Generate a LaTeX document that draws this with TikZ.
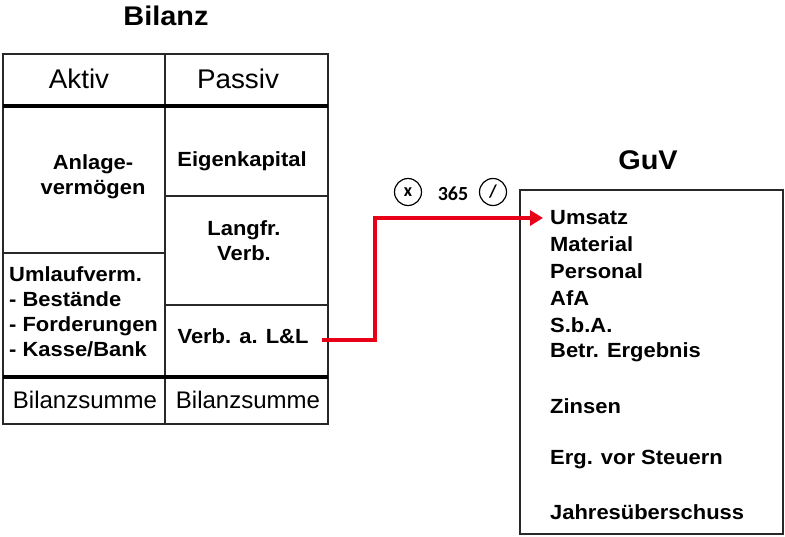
\documentclass[tikz,border=0pt]{standalone}
\usepackage{fontspec}
\setmainfont{Liberation Sans}
\newfontfamily\wide[FakeStretch=1.07]{Liberation Sans}
\newfontfamily\hwide[FakeStretch=1.03]{Liberation Sans}
\newfontfamily\calib{Carlito}
\usetikzlibrary{arrows.meta}
\definecolor{arrred}{RGB}{232,0,24}
\definecolor{linegray}{RGB}{40,40,40}
\tikzset{
  thinline/.style={draw=linegray, line width=1.4pt},
  thickline/.style={draw=black, line width=4pt},
  head/.style={font=\hwide\fontsize{27}{30}\selectfont, inner sep=0pt},
  sumtext/.style={font=\fontsize{24}{28}\selectfont, inner sep=0pt},
  cell/.style={font=\wide\bfseries\fontsize{20.5}{25}\selectfont, align=center, inner sep=0pt},
  lcell/.style={font=\wide\bfseries\fontsize{20.5}{25}\selectfont, align=left, inner sep=0pt, anchor=west},
  title/.style={font=\wide\bfseries\fontsize{27}{30}\selectfont, inner sep=0pt},
  guvitem/.style={font=\wide\bfseries\fontsize{20.5}{27}\selectfont, inner sep=0pt, anchor=west},
  opcircle/.style={draw=black, line width=1.2pt, circle, minimum size=27pt, inner sep=0pt, font=\calib\bfseries\fontsize{18}{20}\selectfont},
  redarrow/.style={draw=arrred, line width=4.5pt, -{Triangle[length=13pt,width=15pt]}}
}
\begin{document}
\begin{tikzpicture}[x=1pt,y=-1pt]
\useasboundingbox (0,0) rectangle (785,536);
% Bilanz table
\node[title] (bilanz) at (166,16) {Bilanz};
\draw[thinline] (3,54) rectangle (328,424);
\draw[thinline] (165,54) -- (165,424);
\draw[thinline] (3,253) -- (165,253);
\draw[thinline] (165,196) -- (328,196);
\draw[thinline] (165,305) -- (328,305);
\draw[thickline] (3,106) -- (328,106);
\draw[thickline] (3,377) -- (328,377);
\node[head] (aktiv) at (79,79) {Aktiv};
\node[head] (passiv) at (238,79) {Passiv};
\node[cell] (anlage) at (93,177) {Anlage-\\vermögen};
\node[cell] (ek) at (242,161) {Eigenkapital};
\node[cell] (langfr) at (244,241) {Langfr.\\Verb.};
\node[lcell] (umlauf) at (9,312) {Umlaufverm.\\- Bestände\\- Forderungen\\- Kasse/Bank};
\node[cell] (verb) at (243,336) {Verb. a. L\&L};
\node[sumtext] (bsa) at (85,400) {Bilanzsumme};
\node[sumtext] (bsp) at (248,400) {Bilanzsumme};
% GuV
\node[title] (guv) at (648,160) {GuV};
\draw[thinline] (520,190) rectangle (783,534);
\node[guvitem] (umsatz) at (550,218) {Umsatz};
\node[guvitem] (material) at (550,244) {Material};
\node[guvitem] (personal) at (550,271) {Personal};
\node[guvitem] (afa) at (550,298) {AfA};
\node[guvitem] (sba) at (550,325) {S.b.A.};
\node[guvitem] (betr) at (550,352) {Betr. Ergebnis};
\node[guvitem] (zinsen) at (550,406) {Zinsen};
\node[guvitem] (evs) at (550,460) {Erg. vor Steuern};
\node[guvitem] (jue) at (550,512) {Jahresüberschuss};
% operators
\node[opcircle] (mal) at (408,192) {x};
\node[font=\calib\bfseries\fontsize{20}{22}\selectfont, inner sep=0pt] (n365) at (453,194) {365};
\node[opcircle] (durch) at (493,192) {/};
% arrow
\coordinate (bend) at (375,0);
\draw[redarrow] ([xshift=13pt,yshift=-4pt]verb.east) -- ([yshift=-4pt]verb.east -| bend) |- ([xshift=-7pt]umsatz.west);
\end{tikzpicture}
\end{document}
